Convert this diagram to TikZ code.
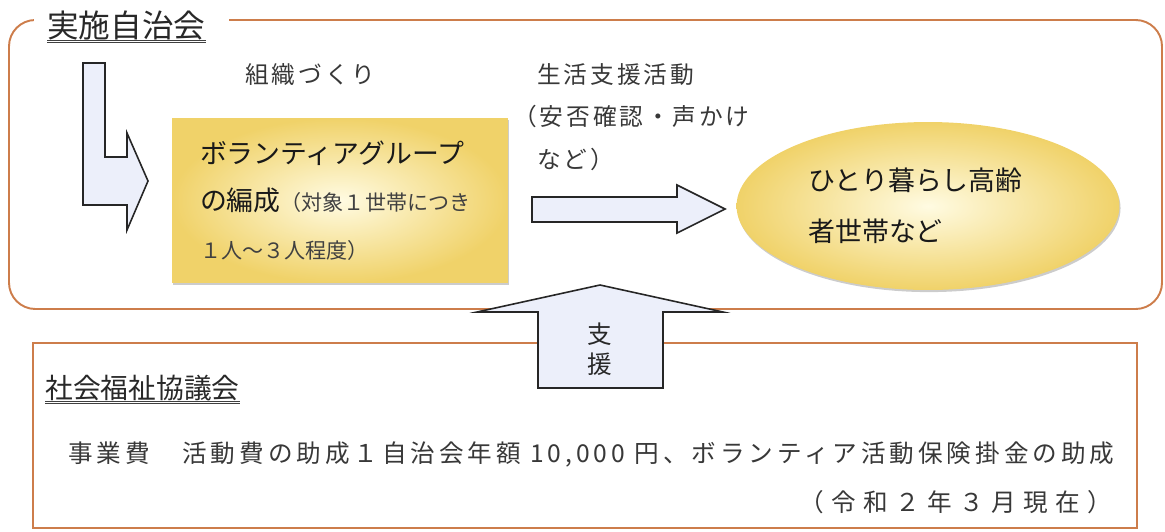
\documentclass[tikz,border=0pt]{standalone}
\usepackage{fontspec}
\newfontfamily\jpfont{Noto Sans CJK JP}
\newfontfamily\jpwide[LetterSpace=12]{Noto Sans CJK JP}
\newfontfamily\jpwider[LetterSpace=16]{Noto Sans CJK JP}
\newfontfamily\jpwidest[LetterSpace=30]{Noto Sans CJK JP}
\usetikzlibrary{positioning,shapes.geometric,shadows}

\definecolor{framecol}{RGB}{205,125,75}
\definecolor{arrowfill}{RGB}{236,239,250}
\definecolor{goldlight}{RGB}{255,251,226}
\definecolor{golddark}{RGB}{240,210,105}
\definecolor{inkcol}{RGB}{40,40,40}

\tikzset{
  frame/.style={draw=framecol, line width=1.1pt},
  blockarrow/.style={draw=black!85, fill=arrowfill, line width=0.9pt},
  underline/.style={draw=black!75, double=white, double distance=0.7pt, line width=0.55pt},
  gold/.style={shade, inner color=goldlight, outer color=golddark,
    drop shadow={shadow xshift=0.6pt, shadow yshift=-1.2pt, opacity=0.4}},
  heading/.style={inner sep=0pt, text=inkcol},
  note/.style={inner sep=0pt, text=black!78, font=\jpwide\fontsize{13.5pt}{16pt}\selectfont},
}

\begin{document}
\begin{tikzpicture}[x=0.02cm, y=-0.02cm]
  \useasboundingbox (0,0) rectangle (1165,531);

  % 実施自治会
  \draw [frame, rounded corners=15pt] (9,20) rectangle (1162,309);
  \fill [white] (34,8) rectangle (229,32);
  \node [heading, anchor=base west, font=\jpfont\fontsize{18pt}{20pt}\selectfont] (jichikai) at (47,37) {実施自治会};
  \draw [underline] ([yshift=-2.5pt]jichikai.base west) -- ([yshift=-2.5pt]jichikai.base east);

  \node [note, anchor=base west] (soshiki) at (245,83) {組織づくり};
  \node [note, anchor=base west] (seikatsu) at (537,83) {生活支援活動};
  \node [note, anchor=base west] (anpi) at (513,125) {（安否確認・声かけ};
  \node [note, anchor=base west] (nado) at (537,168) {など）};

  \draw [blockarrow] (83,63) -- (105,63) -- (105,157) -- (127,157) -- (127,133)
    -- (148,181) -- (127,230) -- (127,205) -- (83,205) -- cycle;

  \node [gold, minimum width=6.72cm, minimum height=3.3cm, inner xsep=0.56cm,
    text width=5.6cm, align=left, text=black!90,
    font=\jpfont\fontsize{15.3pt}{27pt}\selectfont] (group) at (340,200.5)
    {ボランティアグループ\\の編成{\color{black!75}\fontsize{12pt}{27pt}\selectfont （対象１世帯につき}\\{\color{black!75}\fontsize{12pt}{27pt}\selectfont １人～３人程度）}};

  \draw [blockarrow] (532,197) -- (677,197) -- (677,185) -- (725,209)
    -- (677,233) -- (677,222) -- (532,222) -- cycle;

  \node [gold, ellipse, minimum width=7.66cm, minimum height=3.36cm, align=left,
    text=black!90, font=\jpfont\fontsize{15.3pt}{29pt}\selectfont] (koureisha) at (928,206)
    {ひとり暮らし高齢\hspace*{0.5cm}\\者世帯など};

  % 社会福祉協議会
  \draw [frame] (33,343) rectangle (1137,528);
  \node [heading, anchor=base west, font=\jpfont\fontsize{15.8pt}{18pt}\selectfont] (shakyo) at (45,398) {社会福祉協議会};
  \draw [underline] ([yshift=-2.5pt]shakyo.base west) -- ([yshift=-2.5pt]shakyo.base east);
  \node [note, anchor=base west, font=\jpwider\fontsize{14pt}{16pt}\selectfont] (jigyohi) at (68,462)
    {事業費　活動費の助成１自治会年額 10,000 円、ボランティア活動保険掛金の助成};
  \node [note, anchor=base east, font=\jpwidest\fontsize{14pt}{16pt}\selectfont] (genzai) at (1112,511)
    {（令和２年３月現在）};

  \draw [blockarrow] (538,388) -- (538,312) -- (477,312) -- (600,285)
    -- (723,312) -- (663,312) -- (663,388) -- cycle;
  \node [heading, align=center, font=\jpfont\fontsize{14pt}{17pt}\selectfont] (shien) at (600,349) {支\\援};
\end{tikzpicture}
\end{document}
